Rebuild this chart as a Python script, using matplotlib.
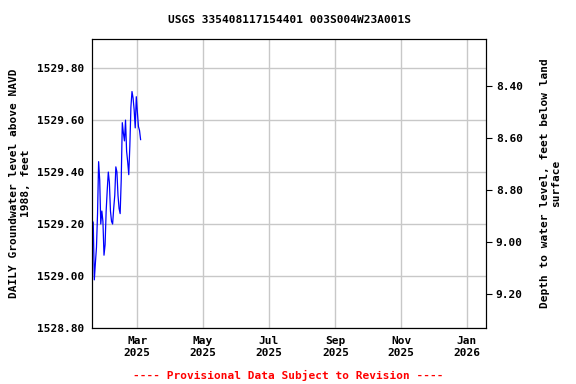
import numpy as np
import pandas as pd
import matplotlib
matplotlib.use("Agg")
import matplotlib.pyplot as plt
import matplotlib.dates as mdates

# Daily groundwater level, NAVD 1988 (feet), Jan 18 - Mar 4 2025
start_date = "2025-01-18"
levels = [1529.215, 1529.205, 1528.985, 1529.05, 1529.11, 1529.24, 1529.44, 1529.37,
          1529.20, 1529.25, 1529.21, 1529.08, 1529.12, 1529.25, 1529.33, 1529.40,
          1529.36, 1529.25, 1529.21, 1529.20, 1529.26, 1529.31, 1529.42, 1529.40,
          1529.31, 1529.26, 1529.24, 1529.37, 1529.59, 1529.55, 1529.52, 1529.60,
          1529.48, 1529.44, 1529.39, 1529.50, 1529.65, 1529.71, 1529.685, 1529.64,
          1529.57, 1529.69, 1529.63, 1529.575, 1529.56, 1529.525]
dates = pd.date_range(start_date, periods=len(levels), freq="D")

land_surface = 1538.13  # depth = land_surface - level
left_ticks = [1528.80, 1529.00, 1529.20, 1529.40, 1529.60, 1529.80]
right_ticks = [8.40, 8.60, 8.80, 9.00, 9.20]
month_ticks = pd.to_datetime(["2025-03-01", "2025-05-01", "2025-07-01",
                              "2025-09-01", "2025-11-01", "2026-01-01"])
ylo, yhi = 1528.80, 1529.9115

plt.rcParams['font.family'] = ['DejaVu Sans Mono']
plt.rcParams['font.weight'] = 'bold'
plt.rcParams['font.size'] = 8

fig = plt.figure(figsize=(5.76, 3.84), dpi=100)
ax = fig.add_axes([0.16, 0.146, 0.684, 0.752])
ax.plot(dates, levels, color="blue", linewidth=0.9)

ax.set_xlim(pd.Timestamp("2025-01-18"), pd.Timestamp("2026-01-19"))
ax.set_ylim(ylo, yhi)
ax.set_yticks(left_ticks)
ax.set_yticklabels([f"{v:.2f}" for v in left_ticks])
ax.set_xticks(month_ticks)
ax.xaxis.set_major_formatter(mdates.DateFormatter("%b\n%Y"))
ax.tick_params(axis="both", length=0, pad=6)
ax.grid(True, color="#c8c8c8", linewidth=1)
ax.set_axisbelow(True)
ax.set_ylabel("DAILY Groundwater level above NAVD\n1988, feet", fontweight="bold")
ax.set_title("USGS 335408117154401 003S004W23A001S", fontsize=8, fontweight="bold", pad=12)

ax2 = ax.twinx()
ax2.set_ylim(land_surface - ylo, land_surface - yhi)
ax2.set_yticks(right_ticks)
ax2.set_yticklabels([f"{v:.2f}" for v in right_ticks])
ax2.tick_params(axis="y", length=4, direction="out", pad=3)
ax2.set_ylabel("Depth to water level, feet below land\nsurface", fontweight="bold",
               labelpad=12)

fig.text(0.5, 0.008, "---- Provisional Data Subject to Revision ----",
         color="red", ha="center", va="bottom", fontsize=8, fontweight="bold")

fig.savefig("out.png", dpi=100)
